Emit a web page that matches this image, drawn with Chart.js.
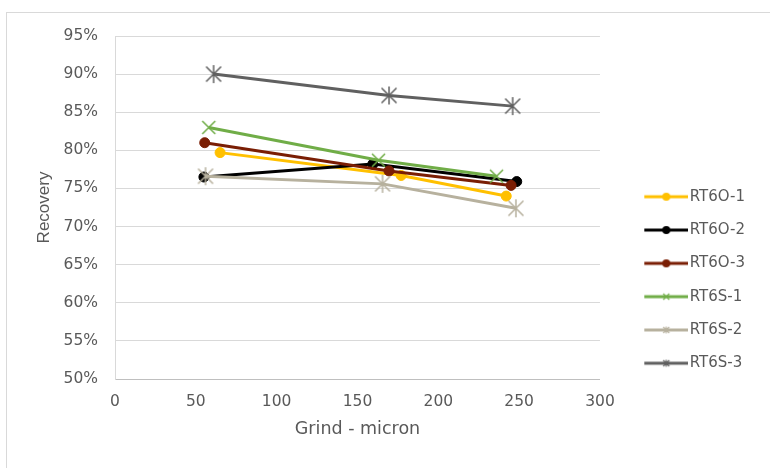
<!DOCTYPE html>
<html>
<head>
<meta charset="utf-8">
<script src="https://cdn.jsdelivr.net/npm/chart.js@4.4.1/dist/chart.umd.min.js"></script>
<style>
  html, body { margin: 0; padding: 0; background: #fff; overflow: hidden; }
  #wrap { position: relative; width: 770px; height: 468px; }
  #frame { position: absolute; left: 6px; top: 12px; width: 820px; height: 520px; border: 1px solid #d9d9d9; }
  #chartBox { position: absolute; left: 0; top: 0; width: 770px; height: 468px; }
</style>
</head>
<body>
<div id="wrap">
  <div id="frame"></div>
  <div id="chartBox"><canvas id="recoveryChart"></canvas></div>
</div>
<script>
// Series names, as in the legend
const seriesNames = ["RT6O-1", "RT6O-2", "RT6O-3", "RT6S-1", "RT6S-2", "RT6S-3"];

// Grind size (micron) for each series
const grindRT6O1 = [65, 177, 242];
const grindRT6O2 = [55, 159.5, 248.5];
const grindRT6O3 = [55.5, 169.5, 245];
const grindRT6S1 = [58, 163, 236];
const grindRT6S2 = [56, 165.5, 248];
const grindRT6S3 = [61, 169.5, 246];

// Recovery (fraction) for each series
const recRT6O1 = [0.797, 0.767, 0.740];
const recRT6O2 = [0.765, 0.782, 0.759];
const recRT6O3 = [0.810, 0.773, 0.754];
const recRT6S1 = [0.830, 0.787, 0.766];
const recRT6S2 = [0.766, 0.756, 0.724];
const recRT6S3 = [0.900, 0.872, 0.858];

// Axis ticks
const xTicks = [0, 50, 100, 150, 200, 250, 300];
const yTicks = [0.50, 0.55, 0.60, 0.65, 0.70, 0.75, 0.80, 0.85, 0.90, 0.95];

const grindLists = [grindRT6O1, grindRT6O2, grindRT6O3, grindRT6S1, grindRT6S2, grindRT6S3];
const recLists = [recRT6O1, recRT6O2, recRT6O3, recRT6S1, recRT6S2, recRT6S3];

const colors = ["#FFC000", "#000000", "#7A1E04", "#70AD47", "#B7B19E", "#606060"];
const markers = ["circle", "circle", "circle", "x", "star", "star"];

const TICK_GREY = "#595959";

// draw one marker shape on a context, centred on (cx, cy)
function drawMarker(c, type, color, cx, cy, size, lw) {
  c.strokeStyle = color;
  c.fillStyle = color;
  c.lineWidth = lw;
  const r = size / 2;
  c.beginPath();
  if (type === "circle") {
    c.arc(cx, cy, r, 0, Math.PI * 2);
    c.fill();
    return;
  }
  // X part
  c.moveTo(cx - r, cy - r); c.lineTo(cx + r, cy + r);
  c.moveTo(cx - r, cy + r); c.lineTo(cx + r, cy - r);
  if (type === "star") {
    c.moveTo(cx, cy - r * 1.2); c.lineTo(cx, cy + r * 1.2);
  }
  c.stroke();
}

function makePointImage(type, color, size, lw) {
  const cv = document.createElement("canvas");
  const s = Math.ceil(size * 1.3) + 4;
  cv.width = s; cv.height = s;
  drawMarker(cv.getContext("2d"), type, color, s / 2, s / 2, size, lw);
  return cv;
}

// legend icon: line with marker, placed in the right part of the image
function makeLegendIcon(type, color) {
  const cv = document.createElement("canvas");
  cv.width = 76; cv.height = 16;
  const c = cv.getContext("2d");
  c.strokeStyle = color;
  c.lineWidth = 3;
  c.beginPath();
  c.moveTo(32, 8); c.lineTo(76, 8);
  c.stroke();
  if (type === "circle") drawMarker(c, type, color, 54, 8, 8, 1);
  else drawMarker(c, type, color, 54, 8, 6, 1.2);
  return cv;
}

const datasets = seriesNames.map((name, i) => {
  const pts = grindLists[i].map((g, j) => ({ x: g, y: recLists[i][j] }));
  const ds = {
    label: name,
    data: pts,
    showLine: true,
    borderColor: colors[i],
    backgroundColor: colors[i],
    borderWidth: 3,
    tension: 0,
    order: seriesNames.length - i,
    pointBorderColor: colors[i],
    pointBackgroundColor: colors[i]
  };
  if (markers[i] === "circle") {
    ds.pointStyle = "circle";
    ds.pointRadius = 5;
    ds.pointBorderWidth = 1;
  } else {
    ds.pointStyle = makePointImage(markers[i], colors[i], markers[i] === "star" ? 15 : 13, 1.5);
    ds.pointRadius = 7;
  }
  return ds;
});

const legendIcons = seriesNames.map((n, i) => makeLegendIcon(markers[i], colors[i]));

const ctx = document.getElementById("recoveryChart").getContext("2d");
const recoveryChart = new Chart(ctx, {
  type: "scatter",
  data: { datasets: datasets },
  options: {
    responsive: true,
    maintainAspectRatio: false,
    animation: false,
    layout: { padding: { top: 36, right: 15, bottom: 0, left: 0 } },
    plugins: {
      tooltip: { enabled: false },
      legend: {
        position: "right",
        align: "center",
        title: { display: true, text: "", font: { size: 10 }, padding: { top: 44, bottom: 0 } },
        labels: {
          usePointStyle: true,
          pointStyleWidth: 64,
          padding: 18.3,
          color: TICK_GREY,
          font: { family: "DejaVu Sans", size: 15 },
          generateLabels: (chart) => seriesNames.map((name, i) => ({
            text: name,
            pointStyle: legendIcons[i],
            fillStyle: colors[i],
            strokeStyle: colors[i],
            lineWidth: 0,
            fontColor: TICK_GREY,
            hidden: false,
            datasetIndex: i
          }))
        }
      }
    },
    scales: {
      x: {
        type: "linear",
        min: 0,
        max: 300,
        afterBuildTicks: (scale) => { scale.ticks = xTicks.map(v => ({ value: v })); },
        afterFit: (scale) => { scale.height = 89; },
        grid: { display: false, drawTicks: false },
        border: { display: true, color: "#bfbfbf", width: 1 },
        ticks: {
          padding: 14,
          color: TICK_GREY,
          font: { family: "DejaVu Sans", size: 15.5 }
        },
        title: {
          display: true,
          text: "Grind - micron",
          color: TICK_GREY,
          font: { family: "DejaVu Sans", size: 17.5 },
          padding: { top: 0, bottom: 28 }
        }
      },
      y: {
        type: "linear",
        min: 0.5,
        max: 0.95,
        afterBuildTicks: (scale) => { scale.ticks = yTicks.map(v => ({ value: v })); },
        afterFit: (scale) => { scale.width = 115; },
        grid: { color: "#d9d9d9", lineWidth: 1, drawTicks: false },
        border: { display: true, color: "#d9d9d9", width: 1 },
        ticks: {
          padding: 17,
          color: TICK_GREY,
          font: { family: "DejaVu Sans", size: 15.5 },
          callback: (v) => Math.round(v * 100) + "%"
        },
        title: {
          display: true,
          text: "Recovery",
          color: TICK_GREY,
          font: { family: "Liberation Sans", size: 17 },
          padding: { top: 34, bottom: 0 }
        }
      }
    }
  }
});
</script>
</body>
</html>
